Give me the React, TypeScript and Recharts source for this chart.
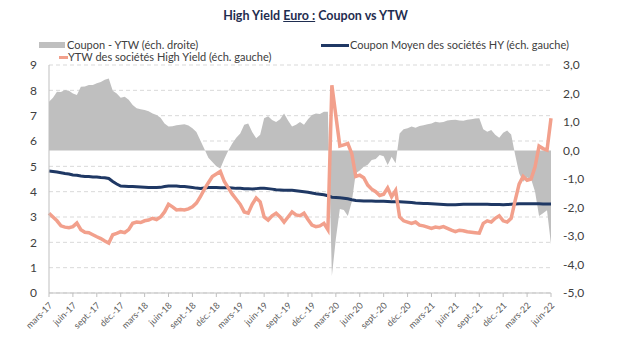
import React from 'react';
import { ComposedChart, Area, Line, XAxis, YAxis, CartesianGrid } from 'recharts';

// half-month steps from mars-17 to juin-22
const TICK_LABELS = [
  'mars-17', 'juin-17', 'sept.-17', 'déc.-17',
  'mars-18', 'juin-18', 'sept.-18', 'déc.-18',
  'mars-19', 'juin-19', 'sept.-19', 'déc.-19',
  'mars-20', 'juin-20', 'sept.-20', 'déc.-20',
  'mars-21', 'juin-21', 'sept.-21', 'déc.-21',
  'mars-22', 'juin-22',
];

const YTW = [
  3.15, 3.0, 2.85, 2.65, 2.6, 2.58, 2.62, 2.76, 2.5, 2.4,
  2.38, 2.3, 2.22, 2.15, 2.05, 1.97, 2.3, 2.35, 2.42, 2.38,
  2.5, 2.75, 2.8, 2.78, 2.85, 2.88, 2.95, 2.9, 3.0, 3.2,
  3.5, 3.4, 3.28, 3.3, 3.28, 3.32, 3.4, 3.55, 3.8, 4.1,
  4.35, 4.6, 4.7, 4.8, 4.4, 4.15, 3.9, 3.7, 3.5, 3.2,
  3.15, 3.5, 3.75, 3.6, 3.0, 2.88, 3.05, 3.15, 3.0, 2.8,
  3.0, 3.2, 3.08, 3.05, 3.15, 2.9, 2.68, 2.62, 2.65, 2.75,
  2.5, 8.2, 7.0, 5.8, 5.85, 5.9, 5.5, 4.6, 4.65, 4.55,
  4.26, 4.1, 4.0, 3.85, 3.9, 4.15, 3.8, 4.05, 3.0, 2.85,
  2.8, 2.75, 2.8, 2.68, 2.65, 2.6, 2.55, 2.6, 2.58, 2.62,
  2.55, 2.48, 2.42, 2.48, 2.46, 2.42, 2.4, 2.38, 2.36, 2.75,
  2.85, 2.8, 2.95, 3.05, 2.85, 2.8, 2.95, 3.65, 4.3, 4.6,
  4.45, 4.5, 4.98, 5.8, 5.7, 5.64, 6.9,
];

const COUPON = [
  4.82, 4.8, 4.78, 4.75, 4.72, 4.7, 4.66, 4.65, 4.62, 4.6,
  4.6, 4.58, 4.58, 4.56, 4.55, 4.52, 4.4, 4.3, 4.22, 4.21,
  4.2, 4.2, 4.19, 4.18, 4.17, 4.16, 4.16, 4.16, 4.17, 4.2,
  4.22, 4.22, 4.22, 4.2, 4.2, 4.18, 4.16, 4.14, 4.13, 4.14,
  4.16, 4.16, 4.16, 4.15, 4.15, 4.15, 4.14, 4.13, 4.13, 4.12,
  4.12, 4.11, 4.12, 4.13, 4.13, 4.12, 4.1, 4.08, 4.07, 4.06,
  4.06, 4.06, 4.04, 4.02, 4.0, 3.98, 3.95, 3.92, 3.9, 3.88,
  3.84, 3.78, 3.77, 3.76, 3.74, 3.72, 3.68, 3.65, 3.64, 3.63,
  3.63, 3.63, 3.62, 3.62, 3.62, 3.61, 3.6, 3.6, 3.6, 3.59,
  3.58, 3.57, 3.55, 3.54, 3.53, 3.53, 3.52, 3.51, 3.5, 3.49,
  3.48, 3.48, 3.48, 3.49, 3.5, 3.5, 3.5, 3.5, 3.5, 3.5,
  3.5, 3.49, 3.49, 3.49, 3.48, 3.49, 3.5, 3.51, 3.52, 3.52,
  3.52, 3.52, 3.52, 3.52, 3.51, 3.51, 3.51,
];

const SPREAD = [
  1.71, 1.85, 2.06, 2.05, 2.12, 2.1, 2.0, 1.95, 2.24, 2.25,
  2.3, 2.3, 2.36, 2.4, 2.48, 2.53, 2.1, 2.0, 1.85, 1.89,
  1.78, 1.6, 1.48, 1.45, 1.42, 1.38, 1.3, 1.25, 1.15, 0.95,
  0.84, 0.85, 0.89, 0.9, 0.92, 0.88, 0.78, 0.65, 0.35, 0.05,
  -0.25, -0.4, -0.55, -0.63, -0.3, 0.0, 0.25, 0.45, 0.6, 0.9,
  0.95, 0.65, 0.43, 0.55, 1.13, 1.2, 1.07, 1.0, 1.1, 1.3,
  1.05, 0.84, 0.9, 1.0, 0.9, 1.1, 1.25, 1.3, 1.28, 1.36,
  1.36, -4.4, -3.1, -2.05, -2.09, -2.3, -1.8, -0.8, -0.7, -0.57,
  -0.5, -0.33, -0.3, -0.16, -0.2, -0.51, -0.22, -0.45, 0.6, 0.75,
  0.78, 0.84, 0.8, 0.86, 0.89, 0.92, 0.95, 1.01, 0.98, 1.0,
  1.05, 1.07, 1.08, 1.05, 1.04, 1.08, 1.1, 1.12, 1.13, 0.75,
  0.66, 0.72, 0.55, 0.45, 0.62, 0.7, 0.56, -0.15, -0.8, -1.1,
  -0.95, -1.0, -1.45, -2.3, -2.2, -2.1, -3.3,
];

const LEFT_TICKS = [0, 1, 2, 3, 4, 5, 6, 7, 8, 9];
const RIGHT_TICKS = [-5, -4, -3, -2, -1, 0, 1, 2, 3];

const data = YTW.map((v, i) => ({ m: i / 2, ytw: v, coupon: COUPON[i], spread: SPREAD[i] }));
const xTicks = TICK_LABELS.map((_, k) => k * 3);

const FONT = 'Lato, "Liberation Sans", sans-serif';

const XTick = (props: any) => {
  const { x, y, payload } = props;
  const label = TICK_LABELS[Math.round(payload.value / 3)];
  const ax = x + 4;
  const ay = y + 7;
  return (
    <text x={ax} y={ay} transform={`rotate(-45, ${ax}, ${ay})`} textAnchor="end" fontSize={9} fill="#595959" fontFamily={FONT}>
      {label}
    </text>
  );
};

export default function App() {
  return (
    <div style={{ position: 'absolute', left: 0, top: 0, width: 623, height: 340, background: '#fff', fontFamily: FONT }}>
      <div style={{ position: 'absolute', left: 0, width: 623, top: 8, textAlign: 'center', paddingLeft: 4, fontSize: 12.5, fontWeight: 700, color: '#1F2D50' }}>
        High Yield <span style={{ textDecoration: 'underline' }}>Euro :</span> Coupon vs YTW
      </div>

      <div style={{ position: 'absolute', left: 39, top: 42, width: 26, height: 6, background: '#BFBFBF' }} />
      <div style={{ position: 'absolute', left: 67, top: 38, fontSize: 11, color: '#404040', lineHeight: '14px' }}>Coupon - YTW (éch. droite)</div>
      <div style={{ position: 'absolute', left: 321, top: 44, width: 28, height: 3, background: '#1F3864' }} />
      <div style={{ position: 'absolute', left: 350, top: 38, fontSize: 11, color: '#404040', lineHeight: '14px' }}>Coupon Moyen des sociétés HY (éch. gauche)</div>
      <div style={{ position: 'absolute', left: 59, top: 56, width: 9, height: 3, background: '#F2A08C' }} />
      <div style={{ position: 'absolute', left: 68, top: 50, fontSize: 11, color: '#404040', lineHeight: '14px' }}>YTW des sociétés High Yield (éch. gauche)</div>

      <ComposedChart width={623} height={340} data={data} margin={{ top: 65, right: 12, bottom: 2, left: 0 }} style={{ position: 'absolute', left: 0, top: 0 }}>
        <CartesianGrid yAxisId="left" vertical={false} stroke="#D9D9D9" strokeDasharray="4 3" />
        <XAxis
          dataKey="m"
          type="number"
          domain={[0, 63]}
          ticks={xTicks}
          interval={0}
          height={45}
          tick={<XTick />}
          tickSize={4}
          tickMargin={2}
          stroke="#BFBFBF"
          axisLine={{ stroke: '#BFBFBF' }}
          tickLine={{ stroke: '#BFBFBF' }}
        />
        <YAxis
          yAxisId="left"
          domain={[0, 9]}
          ticks={LEFT_TICKS}
          interval={0}
          width={49}
          tickSize={0}
          tickMargin={12}
          axisLine={{ stroke: '#BFBFBF' }}
          tickLine={false}
          tick={{ fontSize: 12, fill: '#404040', fontFamily: FONT }}
        />
        <YAxis
          yAxisId="right"
          orientation="right"
          domain={[-5, 3]}
          ticks={RIGHT_TICKS}
          interval={0}
          width={60}
          tickSize={0}
          tickMargin={12}
          axisLine={false}
          tickLine={false}
          tickFormatter={(v: number) => v.toFixed(1).replace('.', ',')}
          tick={{ fontSize: 12, fill: '#404040', fontFamily: FONT, textAnchor: 'start' }}
        />
        <Area yAxisId="right" type="linear" dataKey="spread" baseValue={0} fill="#BFBFBF" fillOpacity={1} stroke="none" isAnimationActive={false} />
        <Line yAxisId="left" type="linear" dataKey="coupon" stroke="#1F3864" strokeWidth={3} dot={false} isAnimationActive={false} />
        <Line yAxisId="left" type="linear" dataKey="ytw" stroke="#F2A08C" strokeWidth={3.5} dot={false} isAnimationActive={false} />
      </ComposedChart>
    </div>
  );
}
